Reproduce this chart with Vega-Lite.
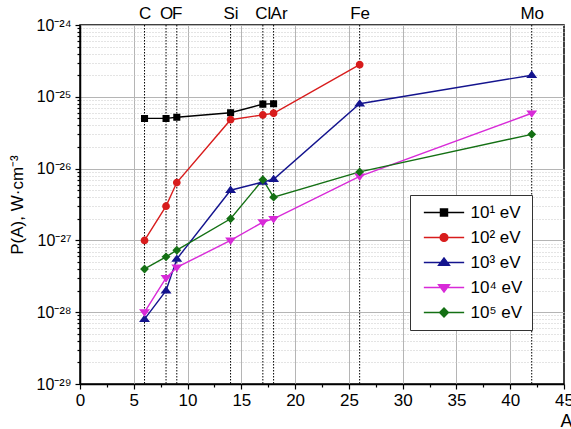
{
  "$schema": "https://vega.github.io/schema/vega-lite/v6.json",
  "width": 484,
  "height": 359,
  "autosize": "none",
  "padding": {"left": 80, "top": 25, "right": 7, "bottom": 45},
  "background": "white",
  "config": {
    "font": "Liberation Sans",
    "view": {"stroke": "black", "strokeWidth": 1.5},
    "axis": {"labelColor": "black", "titleColor": "black", "domainColor": "black", "tickColor": "black", "labelFont": "Liberation Sans", "titleFont": "Liberation Sans", "titleFontWeight": "normal"},
    "legend": {
      "orient": "none", "legendX": 330, "legendY": 170, "title": null,
      "labelFont": "Liberation Sans", "labelFontSize": 17, "labelColor": "black",
      "symbolSize": 50, "symbolOffset": 16.5, "labelOffset": 18, "symbolStrokeWidth": 1.4,
      "padding": 9, "rowPadding": 7,
      "strokeColor": "#333333", "fillColor": "white"
    }
  },
  "datasets": {
    "series": [
      {"E": "10¹ eV", "Z": 6, "P": 5e-26},
      {"E": "10¹ eV", "Z": 8, "P": 5e-26},
      {"E": "10¹ eV", "Z": 9, "P": 5.2e-26},
      {"E": "10¹ eV", "Z": 14, "P": 6e-26},
      {"E": "10¹ eV", "Z": 17, "P": 7.9e-26},
      {"E": "10¹ eV", "Z": 18, "P": 8e-26},
      {"E": "10² eV", "Z": 6, "P": 1e-27},
      {"E": "10² eV", "Z": 8, "P": 3e-27},
      {"E": "10² eV", "Z": 9, "P": 6.4e-27},
      {"E": "10² eV", "Z": 14, "P": 4.8e-26},
      {"E": "10² eV", "Z": 17, "P": 5.6e-26},
      {"E": "10² eV", "Z": 18, "P": 5.9e-26},
      {"E": "10² eV", "Z": 26, "P": 2.8e-25},
      {"E": "10³ eV", "Z": 6, "P": 8e-29},
      {"E": "10³ eV", "Z": 8, "P": 2e-28},
      {"E": "10³ eV", "Z": 9, "P": 5.5e-28},
      {"E": "10³ eV", "Z": 14, "P": 5e-27},
      {"E": "10³ eV", "Z": 17, "P": 6.5e-27},
      {"E": "10³ eV", "Z": 18, "P": 7.1e-27},
      {"E": "10³ eV", "Z": 26, "P": 8e-26},
      {"E": "10³ eV", "Z": 42, "P": 2e-25},
      {"E": "10⁴ eV", "Z": 6, "P": 1e-28},
      {"E": "10⁴ eV", "Z": 8, "P": 3e-28},
      {"E": "10⁴ eV", "Z": 9, "P": 4.2e-28},
      {"E": "10⁴ eV", "Z": 14, "P": 1e-27},
      {"E": "10⁴ eV", "Z": 17, "P": 1.8e-27},
      {"E": "10⁴ eV", "Z": 18, "P": 2e-27},
      {"E": "10⁴ eV", "Z": 26, "P": 7.8e-27},
      {"E": "10⁴ eV", "Z": 42, "P": 5.9e-26},
      {"E": "10⁵ eV", "Z": 6, "P": 4e-28},
      {"E": "10⁵ eV", "Z": 8, "P": 5.9e-28},
      {"E": "10⁵ eV", "Z": 9, "P": 7.3e-28},
      {"E": "10⁵ eV", "Z": 14, "P": 2e-27},
      {"E": "10⁵ eV", "Z": 17, "P": 7e-27},
      {"E": "10⁵ eV", "Z": 18, "P": 4e-27},
      {"E": "10⁵ eV", "Z": 26, "P": 9e-27},
      {"E": "10⁵ eV", "Z": 42, "P": 3e-26}
    ],
    "elements": [
      {"name": "C", "Z": 6},
      {"name": "O", "Z": 8},
      {"name": "F", "Z": 9},
      {"name": "Si", "Z": 14},
      {"name": "Cl", "Z": 17},
      {"name": "Ar", "Z": 18},
      {"name": "Fe", "Z": 26},
      {"name": "Mo", "Z": 42}
    ]
  },
  "resolve": {"axis": {"x": "independent"}},
  "layer": [
    {
      "data": {"name": "elements"},
      "mark": {"type": "rule", "color": "black", "strokeWidth": 1, "strokeDash": [1.5, 1.5]},
      "encoding": {
        "x": {
          "field": "Z", "type": "quantitative",
          "scale": {"domain": [0, 45], "nice": false, "zero": false},
          "axis": {
            "orient": "top", "title": null, "values": [6, 8, 9, 14, 17, 18, 26, 42],
            "ticks": false, "domain": false, "grid": false, "labelOverlap": false,
            "labelFontSize": 17, "labelPadding": 3, "labelFlush": false,
            "labelOffset": {"condition": {"test": "datum.value == 18", "value": 5}, "value": 0},
            "labelExpr": "datum.value == 6 ? 'C' : datum.value == 8 ? 'O' : datum.value == 9 ? 'F' : datum.value == 14 ? 'Si' : datum.value == 17 ? 'Cl' : datum.value == 18 ? 'Ar' : datum.value == 26 ? 'Fe' : 'Mo'"
          }
        }
      }
    },
    {
      "data": {"name": "series"},
      "mark": {"type": "line", "strokeWidth": 1.4},
      "encoding": {
        "x": {
          "field": "Z", "type": "quantitative",
          "scale": {"domain": [0, 45], "nice": false, "zero": false},
          "axis": {
            "orient": "bottom", "title": "A", "titleFontSize": 18,
            "titleAnchor": "end", "titleAlign": "right", "titleBaseline": "top", "titleX": 492, "titleY": 28,
            "values": [0, 2.5, 5, 7.5, 10, 12.5, 15, 17.5, 20, 22.5, 25, 27.5, 30, 32.5, 35, 37.5, 40, 42.5, 45],
            "labelExpr": "datum.value % 5 == 0 ? datum.label : ''",
            "labelFontSize": 17, "labelPadding": 3, "labelFlush": false, "labelOverlap": false,
            "domainWidth": 1.5, "tickWidth": 1.2,
            "tickSize": {"condition": {"test": "datum.value % 5 != 0", "value": 3}, "value": 5},
            "grid": true, "gridColor": "#b5b5b5", "gridWidth": 1,
            "gridOpacity": {"condition": {"test": "datum.value % 5 != 0 || datum.value == 0 || datum.value == 45", "value": 0}, "value": 1}
          }
        },
        "y": {
          "field": "P", "type": "quantitative",
          "scale": {"type": "log", "domain": [1e-29, 1e-24], "nice": false},
          "axis": {
            "title": "P(A), W·cm⁻³", "titleFontSize": 17, "titlePadding": 10,
            "values": [1e-29, 2e-29, 3e-29, 4e-29, 5e-29, 6e-29, 7e-29, 8e-29, 9e-29,
                       1e-28, 2e-28, 3e-28, 4e-28, 5e-28, 6e-28, 7e-28, 8e-28, 9e-28,
                       1e-27, 2e-27, 3e-27, 4e-27, 5e-27, 6e-27, 7e-27, 8e-27, 9e-27,
                       1e-26, 2e-26, 3e-26, 4e-26, 5e-26, 6e-26, 7e-26, 8e-26, 9e-26,
                       1e-25, 2e-25, 3e-25, 4e-25, 5e-25, 6e-25, 7e-25, 8e-25, 9e-25, 1e-24],
            "labelExpr": "abs(log(datum.value)/LN10 - round(log(datum.value)/LN10)) > 0.001 ? '' : round(log(datum.value)/LN10) == -29 ? '10⁻²⁹' : round(log(datum.value)/LN10) == -28 ? '10⁻²⁸' : round(log(datum.value)/LN10) == -27 ? '10⁻²⁷' : round(log(datum.value)/LN10) == -26 ? '10⁻²⁶' : round(log(datum.value)/LN10) == -25 ? '10⁻²⁵' : '10⁻²⁴'",
            "labelFontSize": 16, "labelPadding": 4, "labelFlush": false, "labelOverlap": false,
            "domainWidth": 1.5, "tickWidth": 1.2,
            "tickSize": {"condition": {"test": "abs(log(datum.value)/LN10 - round(log(datum.value)/LN10)) > 0.001", "value": 3}, "value": 5},
            "grid": true,
            "gridColor": {"condition": {"test": "abs(log(datum.value)/LN10 - round(log(datum.value)/LN10)) > 0.001", "value": "#c8c8c8"}, "value": "#b5b5b5"},
            "gridDash": {"condition": {"test": "abs(log(datum.value)/LN10 - round(log(datum.value)/LN10)) > 0.001", "value": [1, 2]}, "value": []}
          }
        },
        "color": {
          "field": "E", "type": "nominal",
          "scale": {"domain": ["10¹ eV", "10² eV", "10³ eV", "10⁴ eV", "10⁵ eV"], "range": ["#000000", "#d81c1c", "#14148e", "#d82ad8", "#147014"]}
        }
      }
    },
    {
      "data": {"name": "series"},
      "mark": {"type": "point", "filled": true, "size": 50, "opacity": 1, "strokeWidth": 0},
      "encoding": {
        "x": {"field": "Z", "type": "quantitative", "axis": null},
        "y": {"field": "P", "type": "quantitative"},
        "color": {
          "field": "E", "type": "nominal",
          "scale": {"domain": ["10¹ eV", "10² eV", "10³ eV", "10⁴ eV", "10⁵ eV"], "range": ["#000000", "#d81c1c", "#14148e", "#d82ad8", "#147014"]}
        },
        "stroke": {
          "field": "E", "type": "nominal",
          "scale": {"domain": ["10¹ eV", "10² eV", "10³ eV", "10⁴ eV", "10⁵ eV"], "range": ["#000000", "#d81c1c", "#14148e", "#d82ad8", "#147014"]}
        },
        "shape": {
          "field": "E", "type": "nominal",
          "scale": {"domain": ["10¹ eV", "10² eV", "10³ eV", "10⁴ eV", "10⁵ eV"], "range": [
            "M-5.7,0H5.7M-1,-1H1V1H-1Z",
            "M-5.7,0H5.7M-1.1,0A1.1,1.1,0,1,0,1.1,0A1.1,1.1,0,1,0,-1.1,0Z",
            "M-5.7,0H5.7M0,-1.3L1.55,0.8L-1.55,0.8Z",
            "M-5.7,0H5.7M0,1.3L1.55,-0.8L-1.55,-0.8Z",
            "M-5.7,0H5.7M0,-1.25L1.25,0L0,1.25L-1.25,0Z"
          ]}
        }
      }
    }
  ]
}
